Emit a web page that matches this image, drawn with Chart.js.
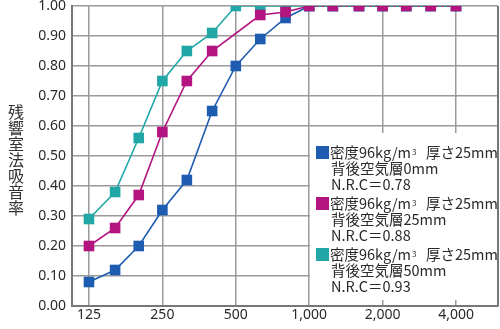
<!DOCTYPE html>
<html>
<head>
<meta charset="utf-8">
<script src="https://cdn.jsdelivr.net/npm/chart.js@4"></script>
<style>
  html, body { margin: 0; padding: 0; background: #fff; }
  #wrap { width: 500px; height: 329px; }
</style>
</head>
<body>
<div id="wrap"><canvas id="chart" width="500" height="329"></canvas></div>
<script>
const freqs = [125, 160, 200, 250, 315, 400, 500, 630, 800, 1000, 1250, 1600, 2000, 2500, 3150, 4000];
const xTicks = [125, 250, 500, 1000, 2000, 4000];

const air0 = [0.08, 0.12, 0.20, 0.32, 0.42, 0.65, 0.80, 0.89, 0.96, 1.00, 1.00, 1.00, 1.00, 1.00, 1.00, 1.00];
const air25 = [0.20, 0.26, 0.37, 0.58, 0.75, 0.85, null, 0.97, 0.98, 1.00, 1.00, 1.00, 1.00, 1.00, 1.00, 1.00];
const air50 = [0.29, 0.38, 0.56, 0.75, 0.85, 0.91, 1.00, 1.00, 1.00, 1.00, 1.00, 1.00, 1.00, 1.00, 1.00, 1.00];

const yTitle = "残響室法吸音率";
const legendItems = [
    { color: "#1d5cb0", lines: ["背後空気層0mm", "N.R.C＝0.78"] },
    { color: "#b3147f", lines: ["背後空気層25mm", "N.R.C＝0.88"] },
    { color: "#22a7a7", lines: ["背後空気層50mm", "N.R.C＝0.93"] }
];

const tickFont = { family: "'Noto Sans', sans-serif", size: 14 };
const jpFont = "'Noto Sans CJK JP', sans-serif";
const gridColor = "#9a9a9a";
const axisColor = "#777";

function series(data, color, order, dashTop) {
    return {
        data: data,
        borderColor: color,
        backgroundColor: color,
        borderWidth: 1.6,
        pointStyle: "rect",
        pointRadius: 7.5,
        pointHoverRadius: 7.5,
        pointBorderWidth: 0,
        spanGaps: true,
        tension: 0,
        order: order,
        segment: dashTop ? {
            borderDash: c => c.p0.parsed.x >= 1000 ? [3, 3] : undefined
        } : undefined
    };
}

const overlay = {
    id: "overlay",
    afterDraw(chart) {
        const { ctx, chartArea: a } = chart;
        ctx.save();

        // right frame
        ctx.strokeStyle = axisColor;
        ctx.lineWidth = 2;
        ctx.beginPath();
        ctx.moveTo(a.right, a.top);
        ctx.lineTo(a.right, a.bottom);
        ctx.stroke();

        // vertical y title
        ctx.fillStyle = "#333";
        ctx.font = "16px " + jpFont;
        ctx.textAlign = "center";
        ctx.textBaseline = "middle";
        const chars = [...yTitle];
        const midY = (a.top + a.bottom) / 2 + 4;
        chars.forEach((c, i) => ctx.fillText(c, 16, midY + (i - (chars.length - 1) / 2) * 16));

        // legend box
        const bx = a.left + 238, by = 133, bw = a.right - bx - 1, bh = 167;
        ctx.fillStyle = "#fff";
        ctx.fillRect(bx, by, bw, bh);

        ctx.textAlign = "left";
        const tx = bx + 20;
        legendItems.forEach((item, i) => {
            const y0 = 152 + i * 51;
            ctx.fillStyle = item.color;
            ctx.fillRect(bx + 6, y0 - 6, 13, 13);
            ctx.fillStyle = "#2a2a2a";
            ctx.font = "14.5px " + jpFont;
            let x = tx;
            const p1 = "密度96kg/m";
            ctx.fillText(p1, x, y0);
            x += ctx.measureText(p1).width;
            ctx.font = "8px " + jpFont;
            ctx.fillText("3", x + 1, y0);
            x += 15;
            ctx.font = "14.5px " + jpFont;
            ctx.fillText("厚さ25mm", x, y0);
            item.lines.forEach((t, j) => ctx.fillText(t, tx + 1, y0 + 16 * (j + 1)));
        });
        ctx.restore();
    }
};

new Chart(document.getElementById("chart"), {
    type: "line",
    data: {
        labels: freqs,
        datasets: [
            series(air0, "#1d5cb0", 3, false),
            series(air50, "#22a7a7", 2, false),
            series(air25, "#b3147f", 1, true)
        ]
    },
    options: {
        responsive: false,
        animation: false,
        layout: { autoPadding: false, padding: { top: 6, right: 2, left: 0, bottom: 0 } },
        plugins: {
            legend: { display: false },
            tooltip: { enabled: false }
        },
        scales: {
            x: {
                type: "logarithmic",
                min: 106.5,
                max: 5945,
                bounds: "data",
                afterBuildTicks: s => { s.ticks = xTicks.map(v => ({ value: v })); },
                afterFit: s => {
                    s.height = 23;
                    s.paddingLeft = 0;
                    s.paddingRight = 0;
                },
                ticks: {
                    color: "#2a2a2a",
                    font: tickFont,
                    padding: 1,
                    autoSkip: false,
                    maxRotation: 0,
                    callback: v => Number(v).toLocaleString("en-US")
                },
                grid: { color: gridColor, lineWidth: 1.5, drawTicks: false },
                border: { color: axisColor, width: 2 }
            },
            y: {
                min: 0,
                max: 1,
                afterFit: s => {
                    s.width = 72;
                    s.paddingTop = 0;
                    s.paddingBottom = 0;
                },
                ticks: {
                    stepSize: 0.1,
                    color: "#2a2a2a",
                    font: tickFont,
                    padding: 6,
                    callback: v => Number(v).toFixed(2)
                },
                grid: { color: gridColor, lineWidth: 1.5, drawTicks: false },
                border: { color: axisColor, width: 2 }
            }
        }
    },
    plugins: [overlay]
});
</script>
</body>
</html>
